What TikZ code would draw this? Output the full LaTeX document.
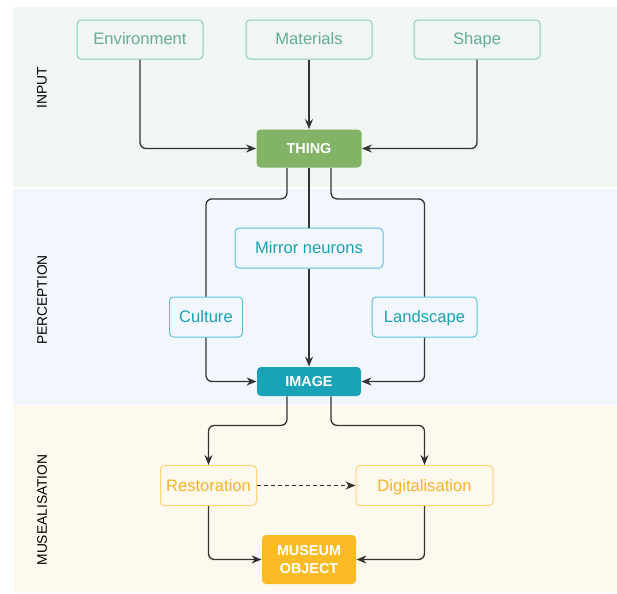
\documentclass[tikz,border=0pt]{standalone}
\usepackage{fontspec}
\setmainfont{Liberation Sans}
\usetikzlibrary{arrows.meta, positioning}
\definecolor{inputbg}{RGB}{240,246,242}
\definecolor{percbg}{RGB}{242,247,254}
\definecolor{musebg}{RGB}{253,249,239}
\definecolor{inputline}{RGB}{143,201,182}
\definecolor{inputtext}{RGB}{104,173,150}
\definecolor{thinggreen}{RGB}{130,179,102}
\definecolor{percline}{RGB}{94,196,211}
\definecolor{perctext}{RGB}{28,160,180}
\definecolor{imageteal}{RGB}{26,163,183}
\definecolor{museline}{RGB}{255,212,115}
\definecolor{musetext}{RGB}{247,178,40}
\definecolor{museumgold}{RGB}{251,187,36}
\definecolor{wire}{RGB}{51,51,51}

\begin{document}
\begin{tikzpicture}[x=0.5pt, y=-0.5pt,
        item/.style={rectangle, draw, rounded corners=2pt, line width=0.5pt,
          minimum height=20pt, inner sep=0pt, text height=6.4pt, text depth=0.9pt,
          font=\fontsize{8.3}{10}\selectfont},
        core/.style={rectangle, rounded corners=2pt, text=white, align=center,
          inner sep=0pt, font=\fontsize{7.2}{8.6}\bfseries\selectfont},
        phase/.style={rotate=90, font=\fontsize{6.9}{8}\selectfont},
        link/.style={line width=0.65pt, wire, rounded corners=3pt},
        arrow/.style={link, -{Stealth[length=5pt, width=4pt]}}
      ]
        \useasboundingbox (0,0) rectangle (617,594);
        \fill[inputbg] (13,7) rectangle (617,187);
        \fill[percbg] (13,189) rectangle (617,405);
        \fill[musebg] (13,406) rectangle (617,593);
        \node[phase] (lblinput) at (42,88) {INPUT};
        \node[phase] (lblperc) at (42,300) {PERCEPTION};
        \node[phase] (lblmuse) at (42,510) {MUSEALISATION};
        \node[item, draw=inputline, text=inputtext, minimum width=63pt, minimum height=19.5pt] (env) at (140,39.5) {Environment};
        \node[item, draw=inputline, text=inputtext, minimum width=63pt, minimum height=19.5pt] (materials) at (309,39.5) {Materials};
        \node[item, draw=inputline, text=inputtext, minimum width=63pt, minimum height=19.5pt] (shape) at (477,39.5) {Shape};
        \node[core, fill=thinggreen, minimum width=52.5pt, minimum height=19pt] (thing) at (309,148.5) {THING};
        \node[item, draw=percline, text=perctext, minimum width=74pt] (mirror) at (309,248) {Mirror neurons};
        \node[item, draw=percline, text=perctext, minimum width=36.5pt] (culture) at (206,317) {Culture};
        \node[item, draw=percline, text=perctext, minimum width=52.5pt] (landscape) at (424.5,317) {Landscape};
        \node[core, fill=imageteal, minimum width=52pt, minimum height=14.5pt] (image) at (309,381.5) {IMAGE};
        \node[item, draw=museline, text=musetext, minimum width=48pt] (restoration) at (208.5,485.5) {Restoration};
        \node[item, draw=museline, text=musetext, minimum width=68.5pt] (digital) at (424.5,485.5) {Digitalisation};
        \node[core, fill=museumgold, minimum width=47pt, minimum height=24.5pt] (museum) at (309,559.5) {MUSEUM\\OBJECT};
        \draw[arrow] (env.south) |- (thing.west);
        \draw[arrow] (materials) -- (thing);
        \draw[arrow] (shape.south) |- (thing.east);
        \draw[link] ([xshift=-11pt]thing.south) -- ++(0,31) -| (culture.north);
        \draw[link] (thing.south) -- (mirror.north);
        \draw[link] ([xshift=11pt]thing.south) -- ++(0,31) -| (landscape.north);
        \draw[arrow] (culture.south) |- (image.west);
        \draw[arrow] (mirror.south) -- (image.north);
        \draw[arrow] (landscape.south) |- (image.east);
        \draw[arrow] ([xshift=-11pt]image.south) -- ++(0,29) -| (restoration.north);
        \draw[arrow] ([xshift=11pt]image.south) -- ++(0,29) -| (digital.north);
        \draw[arrow, dash pattern=on 2pt off 1.5pt] (restoration) -- (digital);
        \draw[arrow] (restoration.south) |- (museum.west);
        \draw[arrow] (digital.south) |- (museum.east);
      \end{tikzpicture}
\end{document}
